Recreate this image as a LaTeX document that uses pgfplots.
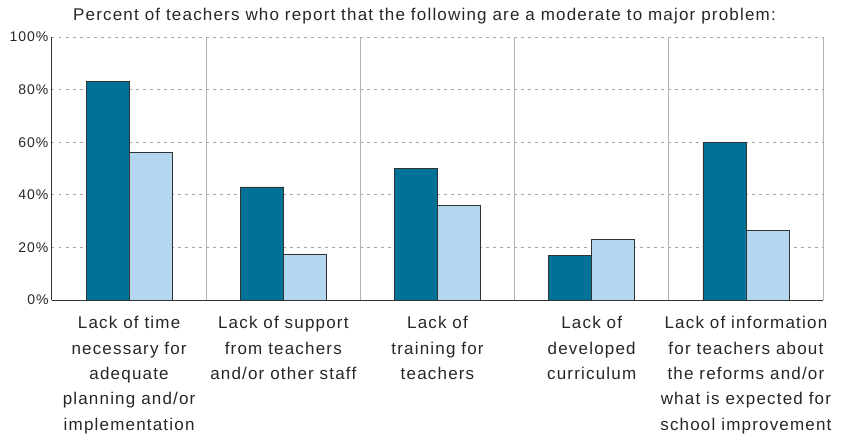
\documentclass[border=0pt]{standalone}
\usepackage{pgfplots}
\pgfplotsset{compat=1.18}
\usepackage{fontspec}
\setmainfont{Liberation Sans}[LetterSpace=7]
\definecolor{darkteal}{HTML}{007296}
\definecolor{lightblue}{HTML}{B4D7F0}
\definecolor{edge}{HTML}{333333}
\begin{document}
\begin{tikzpicture}
\begin{axis}[
  name=ax,
  scale only axis,
  width=771pt, height=263pt,
  xmin=-0.5, xmax=4.5,
  ymin=0, ymax=100,
  ybar=0pt, bar width=43pt,
  xtick={0,1,2,3,4},
  xticklabels={{Lack of time\\necessary for\\adequate\\planning and/or\\implementation},
    {Lack of support\\from teachers\\and/or other staff},
    {Lack of\\training for\\teachers},
    {Lack of\\developed\\curriculum},
    {Lack of information\\for teachers about\\the reforms and/or\\what is expected for\\school improvement}},
  x tick label style={align=center, font=\fontsize{17}{25.3}\selectfont, yshift=-13pt},
  ytick={0,20,40,60,80,100},
  yticklabel={\pgfmathprintnumber{\tick}\%},
  y tick label style={font=\fontsize{14}{18}\selectfont},
  /pgf/number format/assume math mode=true,
  major tick length=0pt,
  ymajorgrids,
  major grid style={gray!70, dash pattern=on 2.5pt off 4.5pt, line width=0.8pt},
  extra x ticks={0.5,1.5,2.5,3.5,4.5},
  extra x tick labels={},
  extra x tick style={grid=major, major grid style={gray!60, solid, line width=0.8pt}},
  axis x line*=bottom, axis y line*=left,
  axis line style={edge, line width=1pt},
  title={Percent of teachers who report that the following are a moderate to major problem:},
  title style={font=\fontsize{17}{18}\selectfont, xshift=-13pt, yshift=3pt},
  ticklabel style={text=black!85},
  every axis title/.append style={text=black!85},
  every axis plot/.append style={draw=edge, line width=0.8pt},
]
\addplot[fill=darkteal] coordinates {(0,83.2) (1,43) (2,50) (3,16.9) (4,60)};
\addplot[fill=lightblue] coordinates {(0,56) (1,17.5) (2,36) (3,23) (4,26.4)};
\end{axis}
\pgfresetboundingbox
\path ([xshift=-52pt,yshift=-142pt]ax.south west) rectangle ([xshift=26pt,yshift=37pt]ax.north east);
\end{tikzpicture}
\end{document}
